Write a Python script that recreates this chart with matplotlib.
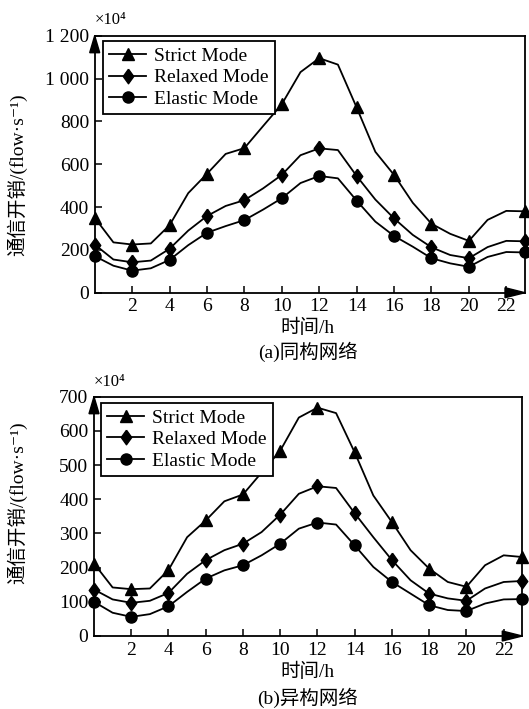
import matplotlib
matplotlib.use('Agg')
import matplotlib.pyplot as plt
from matplotlib.patches import Polygon

plt.rcParams['font.family'] = ['Liberation Serif', 'Noto Sans CJK SC', 'DejaVu Serif']

hours = list(range(24))
marker_idx = [0, 2, 4, 6, 8, 10, 12, 14, 16, 18, 20, 23]
xtick_vals = [2, 4, 6, 8, 10, 12, 14, 16, 18, 20, 22]

# (a) homogeneous network, x10^4 flow/s
homo_strict = [350, 235, 225, 230, 315, 465, 555, 648, 675, 778, 880, 1030, 1095, 1065,
               865, 658, 550, 420, 322, 275, 242, 340, 382, 380]
homo_relaxed = [225, 155, 142, 150, 205, 290, 358, 405, 432, 487, 550, 642, 674, 666,
                545, 435, 347, 270, 212, 176, 161, 213, 242, 240]
homo_elastic = [171, 126, 103, 114, 153, 222, 280, 311, 339, 388, 441, 512, 545, 534,
                430, 332, 265, 215, 161, 137, 121, 167, 190, 188]

# (b) heterogeneous network
hetero_strict = [212, 142, 137, 139, 193, 289, 338, 394, 414, 478, 542, 639, 668, 652,
                 537, 411, 333, 251, 197, 158, 144, 207, 236, 231]
hetero_relaxed = [136, 107, 97, 103, 126, 182, 222, 251, 270, 304, 355, 416, 438, 433,
                  359, 289, 222, 163, 124, 110, 103, 139, 158, 161]
hetero_elastic = [100, 68, 56, 64, 87, 129, 168, 192, 207, 236, 270, 314, 332, 326,
                  265, 202, 158, 124, 90, 76, 73, 95, 107, 108]

series_names = ['Strict Mode', 'Relaxed Mode', 'Elastic Mode']
# slightly tall diamond, like the printed figure
diamond = [(0, 1), (0.72, 0), (0, -1), (-0.72, 0), (0, 1)]
markers = ['^', diamond, 'o']
marker_sizes = [8.5, 10.5, 8]

W, H = 529, 709
fig = plt.figure(figsize=(W / 100, H / 100), dpi=100)


def px_axes(left, top, right, bottom):
    return fig.add_axes([left / W, 1 - bottom / H, (right - left) / W, (bottom - top) / H])


def draw_panel(ax, data, ymax, ystep, yticklabels, legend_anchor):
    for vals, name, mk, ms in zip(data, series_names, markers, marker_sizes):
        ax.plot(hours, vals, color='black', lw=1.3, marker=mk, markersize=ms,
                markevery=marker_idx, label=name, clip_on=False, zorder=3)
    ax.set_xlim(0, 23)
    ax.set_ylim(0, ymax)
    ax.set_xticks(xtick_vals)
    ax.set_xticklabels([str(v) for v in xtick_vals])
    ax.set_yticks(list(range(0, ymax + 1, ystep)))
    ax.set_yticklabels(yticklabels)
    ax.tick_params(direction='in', length=5, width=1.1, labelsize=14, pad=4)
    for sp in ax.spines.values():
        sp.set_linewidth(1.3)
    # axis arrows
    bbox = ax.get_window_extent()
    aw, ah = bbox.width, bbox.height
    ax.add_patch(Polygon([(0, 1), (-5 / aw, 1 - 17 / ah), (5 / aw, 1 - 17 / ah)],
                         closed=True, color='black', transform=ax.transAxes,
                         clip_on=False, zorder=5))
    ax.add_patch(Polygon([(1, 0), (1 - 20 / aw, 5 / ah), (1 - 20 / aw, -5 / ah)],
                         closed=True, color='black', transform=ax.transAxes,
                         clip_on=False, zorder=5))
    leg = ax.legend(loc='upper left', bbox_to_anchor=legend_anchor, borderaxespad=0,
                    fontsize=14, handlelength=1.9, handletextpad=0.4, labelspacing=0.2,
                    borderpad=0.33, fancybox=False, framealpha=1, edgecolor='black')
    leg.get_frame().set_linewidth(1.3)
    ax.text(0, 1.03, '×10⁴', transform=ax.transAxes, ha='left', va='bottom', fontsize=12)


# top panel
ax1 = px_axes(94.7, 35.7, 525, 292.7)
draw_panel(ax1, [homo_strict, homo_relaxed, homo_elastic], 1200, 200,
           ['0', '200', '400', '600', '800', '1 000', '1 200'], (0.019, 0.98))
fig.text(17.5 / W, 1 - 175 / H, '通信开销/(flow·s⁻¹)', rotation=90,
         ha='center', va='center', fontsize=14)
fig.text(307 / W, 1 - 328 / H, '时间/h', ha='center', va='center', fontsize=14)
fig.text(308 / W, 1 - 351.7 / H, '(a)同构网络', ha='center', va='center', fontsize=14)

# bottom panel
ax2 = px_axes(94, 396.7, 522.3, 636)
draw_panel(ax2, [hetero_strict, hetero_relaxed, hetero_elastic], 700, 100,
           [str(v) for v in range(0, 701, 100)], (0.016, 0.975))
fig.text(17 / W, 1 - 503 / H, '通信开销/(flow·s⁻¹)', rotation=90,
         ha='center', va='center', fontsize=14)
fig.text(307 / W, 1 - 671.7 / H, '时间/h', ha='center', va='center', fontsize=14)
fig.text(308 / W, 1 - 698 / H, '(b)异构网络', ha='center', va='center', fontsize=14)

fig.savefig('out.png', dpi=100)
